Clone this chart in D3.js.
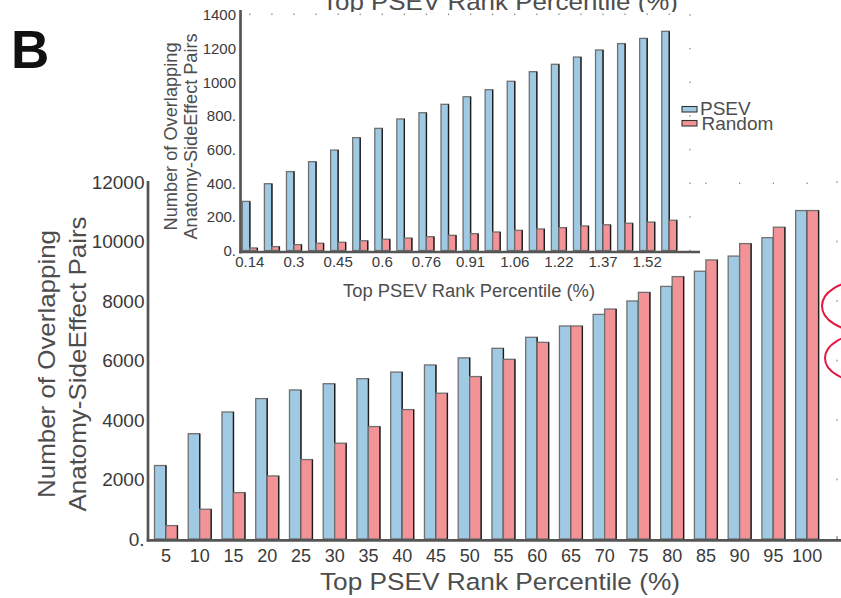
<!DOCTYPE html>
<html><head><meta charset="utf-8">
<script src="https://cdn.jsdelivr.net/npm/d3@7"></script>
<style>
html,body{margin:0;padding:0;background:#fff;}
svg{display:block;font-family:"Liberation Sans",Arial,Helvetica,sans-serif;}
</style></head>
<body>
<svg id="chart" width="841" height="598"></svg>
<script>
// ---------- data ----------
const mainCategories = ["5","10","15","20","25","30","35","40","45","50","55","60","65","70","75","80","85","90","95","100"];
const mainPSEV   = [2470,3540,4270,4720,5010,5220,5390,5610,5850,6090,6410,6780,7160,7550,8000,8490,9000,9510,10130,11040];
const mainRandom = [450,1000,1560,2120,2670,3220,3780,4350,4900,5460,6040,6610,7160,7730,8290,8820,9380,9930,10480,11040];
const mainYTicks = [0,2000,4000,6000,8000,10000,12000];

const insetIndex = d3.range(20);
const insetTickLabels = ["0.14","0.3","0.45","0.6","0.76","0.91","1.06","1.22","1.37","1.52"];
const insetPSEV   = [292,397,469,528,597,671,726,782,819,869,914,956,1006,1063,1107,1150,1192,1230,1261,1303];
const insetRandom = [15,23,35,43,49,58,67,74,82,90,100,110,120,128,136,146,153,162,169,180];
const insetYTicks = [0,200,400,600,800,1000,1200,1400];

const seriesNames = ["PSEV","Random"];
const colors = {PSEV:"#a0cae3", Random:"#f39397"};

const svg = d3.select("#chart");
const FONT_T = "#4d4d4d", FONT_K = "#3a3a3a", AXC = "#555";
const fmtDot = d => { const s = String(d); return s.length < 4 ? s + "." : s; };

function drawBars(g, cats, ps, rd, x, y) {
  cats.forEach((c, i) => {
    const x0 = x(c), bw = x.bandwidth() / 2;
    [[ps[i], x0, "PSEV"], [rd[i], x0 + bw, "Random"]].forEach(([v, xx, s]) => {
      const top = y(v), base = y(0);
      g.append("rect").attr("x", xx).attr("y", top).attr("width", bw).attr("height", base - top)
        .attr("fill", colors[s]).attr("stroke", "#707070").attr("stroke-width", 1.3);
      g.append("line").attr("x1", xx + bw).attr("x2", xx + bw).attr("y1", top).attr("y2", base)
        .attr("stroke", "#1c1c1c").attr("stroke-width", 1.3);
    });
  });
}

// ---------- main chart ----------
const mx = d3.scaleBand().domain(mainCategories).range([149.1, 824]).paddingInner(0.32).paddingOuter(0.16);
const my = d3.scaleLinear().domain([0, 12000]).range([539, 182]);
const main = svg.append("g");

// box tick dots (top & right)
mainCategories.forEach(c => main.append("rect").attr("x", mx(c) + mx.bandwidth()/2 - 0.6).attr("y", 182.5)
  .attr("width", 1.2).attr("height", 1.6).attr("fill", "#8a8a8a"));
mainYTicks.forEach(t => main.append("rect").attr("x", 836.4).attr("y", my(t) - 0.8)
  .attr("width", 1.2).attr("height", 1.6).attr("fill", "#8a8a8a"));
main.append("rect").attr("x", 836.4).attr("y", 536).attr("width", 1.2).attr("height", 3).attr("fill", "#8a8a8a");

drawBars(main, mainCategories, mainPSEV, mainRandom, mx, my);

main.append("line").attr("x1", 148).attr("x2", 148).attr("y1", 181).attr("y2", 541.5)
  .attr("stroke", AXC).attr("stroke-width", 2.7);
main.append("line").attr("x1", 146.7).attr("x2", 841).attr("y1", 540.3).attr("y2", 540.3)
  .attr("stroke", AXC).attr("stroke-width", 2.7);

const myAxis = main.append("g").attr("transform", "translate(148,0)")
  .call(d3.axisLeft(my).tickValues(mainYTicks).tickSize(0).tickPadding(3.5).tickFormat(fmtDot));
myAxis.select(".domain").remove();
myAxis.selectAll("text").attr("font-size", 19).attr("fill", FONT_K).attr("font-family", null);

const mxAxis = main.append("g").attr("transform", "translate(0,540)")
  .call(d3.axisBottom(mx).tickSize(0).tickPadding(9.2));
mxAxis.select(".domain").remove();
mxAxis.selectAll("text").attr("font-size", 18).attr("fill", FONT_K).attr("font-family", null);

main.append("text").attr("x", 500).attr("y", 590).attr("text-anchor", "middle")
  .attr("font-size", 24.5).attr("fill", FONT_T).attr("textLength", 360).attr("lengthAdjust", "spacingAndGlyphs")
  .text("Top PSEV Rank Percentile (%)");
const myt = main.append("g").attr("transform", "translate(0,364) rotate(-90)");
myt.append("text").attr("x", 0).attr("y", 55).attr("text-anchor", "middle").attr("font-size", 24.5)
  .attr("fill", FONT_T).attr("textLength", 268).attr("lengthAdjust", "spacingAndGlyphs").text("Number of Overlapping");
myt.append("text").attr("x", 0).attr("y", 86).attr("text-anchor", "middle").attr("font-size", 24.5)
  .attr("fill", FONT_T).attr("textLength", 295).attr("lengthAdjust", "spacingAndGlyphs").text("Anatomy-SideEffect Pairs");

// red annotation ellipses (clipped at right edge)
main.append("ellipse").attr("cx", 862).attr("cy", 306).attr("rx", 40).attr("ry", 25)
  .attr("fill", "none").attr("stroke", "#e5163e").attr("stroke-width", 2);
main.append("ellipse").attr("cx", 865).attr("cy", 358).attr("rx", 40).attr("ry", 24)
  .attr("fill", "none").attr("stroke", "#e5163e").attr("stroke-width", 2);

// top title from panel above (clipped)
svg.append("text").attr("x", 500).attr("y", 9.5).attr("text-anchor", "middle").attr("font-size", 24.5)
  .attr("fill", FONT_T).attr("textLength", 356).attr("lengthAdjust", "spacingAndGlyphs")
  .text("Top PSEV Rank Percentile (%)");

// panel letter
svg.append("text").attr("x", 11).attr("y", 68).attr("font-size", 53).attr("font-weight", "bold")
  .attr("fill", "#111").text("B");

// ---------- inset ----------
const ix = d3.scaleBand().domain(insetIndex).range([238.8, 680.3]).paddingInner(0.32).paddingOuter(0.16);
const iy = d3.scaleLinear().domain([0, 1400]).range([250.5, 15]);
const inset = svg.append("g");
inset.append("rect").attr("x", 152).attr("y", 12).attr("width", 537).attr("height", 238).attr("fill", "#fff");

insetIndex.forEach(c => inset.append("rect").attr("x", ix(c) + ix.bandwidth()/2 - 0.6).attr("y", 13.5)
  .attr("width", 1.2).attr("height", 1.6).attr("fill", "#8a8a8a"));
insetYTicks.forEach(t => inset.append("rect").attr("x", 689.4).attr("y", iy(t) - 0.8)
  .attr("width", 1.2).attr("height", 1.6).attr("fill", "#8a8a8a"));

drawBars(inset, insetIndex, insetPSEV, insetRandom, ix, iy);

inset.append("line").attr("x1", 240.5).attr("x2", 240.5).attr("y1", 10).attr("y2", 253.4)
  .attr("stroke", AXC).attr("stroke-width", 2.7);
inset.append("line").attr("x1", 239.2).attr("x2", 700).attr("y1", 252).attr("y2", 252)
  .attr("stroke", AXC).attr("stroke-width", 2.7);

const iyAxis = inset.append("g").attr("transform", "translate(240.5,0)")
  .call(d3.axisLeft(iy).tickValues(insetYTicks).tickSize(0).tickPadding(4.5).tickFormat(fmtDot));
iyAxis.select(".domain").remove();
iyAxis.selectAll("text").attr("font-size", 15).attr("fill", FONT_K).attr("font-family", null);

const ixAxis = inset.append("g").attr("transform", "translate(0,252)")
  .call(d3.axisBottom(ix).tickValues(insetIndex.filter(i => i % 2 === 0)).tickSize(0).tickPadding(4.4)
    .tickFormat(i => insetTickLabels[i / 2]));
ixAxis.select(".domain").remove();
ixAxis.selectAll("text").attr("font-size", 15).attr("fill", FONT_K).attr("font-family", null);

inset.append("text").attr("x", 469).attr("y", 296.5).attr("text-anchor", "middle").attr("font-size", 18)
  .attr("fill", FONT_T).attr("textLength", 252).attr("lengthAdjust", "spacingAndGlyphs")
  .text("Top PSEV Rank Percentile (%)");
const iyt = inset.append("g").attr("transform", "translate(0,136.5) rotate(-90)");
iyt.append("text").attr("x", 0).attr("y", 176.5).attr("text-anchor", "middle").attr("font-size", 18)
  .attr("fill", FONT_T).attr("textLength", 188).attr("lengthAdjust", "spacingAndGlyphs").text("Number of Overlapping");
iyt.append("text").attr("x", 0).attr("y", 197).attr("text-anchor", "middle").attr("font-size", 18)
  .attr("fill", FONT_T).attr("textLength", 206).attr("lengthAdjust", "spacingAndGlyphs").text("Anatomy-SideEffect Pairs");

// legend
const leg = svg.append("g");
seriesNames.forEach((s, i) => {
  leg.append("rect").attr("x", 682).attr("y", 106.5 + i * 14).attr("width", 15).attr("height", 5.5)
    .attr("fill", colors[s]).attr("stroke", "#333").attr("stroke-width", 1.1);
  leg.append("text").attr("x", 700 + i * 1.5).attr("y", 114.5 + i * 15).attr("font-size", 19)
    .attr("fill", FONT_T).text(s);
});
</script>
</body></html>
